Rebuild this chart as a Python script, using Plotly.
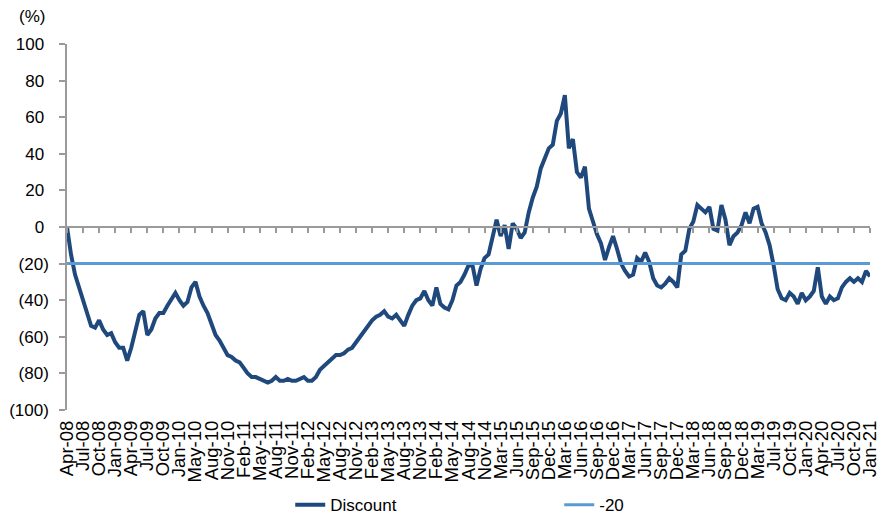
import plotly.graph_objects as go

# Category labels on the horizontal axis (one every ~quarter)
tick_labels = ["Apr-08", "Jul-08", "Oct-08", "Jan-09", "Apr-09", "Jul-09", "Oct-09", "Jan-10",
               "May-10", "Aug-10", "Nov-10", "Feb-11", "May-11", "Aug-11", "Nov-11", "Feb-12",
               "May-12", "Aug-12", "Nov-12", "Feb-13", "May-13", "Aug-13", "Nov-13", "Feb-14",
               "May-14", "Aug-14", "Nov-14", "Mar-15", "Jun-15", "Sep-15", "Dec-15", "Mar-16",
               "Jun-16", "Sep-16", "Dec-16", "Mar-17", "Jun-17", "Sep-17", "Dec-17", "Mar-18",
               "Jun-18", "Sep-18", "Dec-18", "Mar-19", "Jul-19", "Oct-19", "Jan-20", "Apr-20",
               "Jul-20", "Oct-20", "Jan-21"]

# Discount (%), 4 readings per label interval
discount = [0, -15, -26, -33, -41, -47, -54, -55, -51, -56,
            -59, -58, -63, -66, -66, -73, -66, -57, -48, -46,
            -59, -56, -50, -47, -47, -43, -39, -36, -40, -43,
            -41, -33, -30, -38, -43, -47, -53, -59, -62, -66,
            -70, -71, -73, -74, -77, -80, -82, -82, -83, -84,
            -85, -84, -82, -84, -84, -83, -84, -84, -83, -82,
            -84, -84, -82, -78, -76, -74, -72, -70, -70, -69,
            -67, -66, -63, -60, -57, -54, -51, -49, -48, -46,
            -49, -50, -48, -51, -54, -48, -43, -40, -39, -35,
            -40, -43, -33, -42, -44, -45, -40, -32, -30, -26,
            -21, -21, -32, -23, -17, -15, -6, 4, -5, 1,
            -12, 2, -1, -6, -3, 8, 16, 22, 32, 37,
            43, 45, 58, 62, 72, 43, 48, 30, 27, 33,
            10, 3, -4, -9, -18, -11, -5, -12, -20, -24,
            -27, -26, -17, -19, -14, -19, -28, -32, -33, -31,
            -28, -30, -33, -15, -13, -1, 3, 12, 10, 8,
            11, -1, -2, 12, 4, -10, -5, -3, 1, 8,
            2, 10, 11, 2, -3, -10, -21, -34, -39, -40,
            -36, -38, -42, -36, -40, -38, -35, -22, -38, -42,
            -38, -40, -39, -33, -30, -28, -30, -28, -30, -24,
            -27]

threshold = -20
readings_per_label = 4

y_ticks = [100, 80, 60, 40, 20, 0, -20, -40, -60, -80, -100]
# accounting style: negatives in brackets, positives padded so digits line up
y_tick_text = [(str(v) + "\u00a0") if v >= 0 else "(%d)" % abs(v) for v in y_ticks]

x = [i / readings_per_label for i in range(len(discount))]
label_pos = list(range(len(tick_labels)))

FONT = "Liberation Sans, Arial, sans-serif"
GREY = "#9a9a9a"

fig = go.Figure()
fig.add_trace(go.Scatter(x=x, y=discount, mode="lines", name="Discount",
                         line=dict(color="#1F497D", width=4)))
fig.add_trace(go.Scatter(x=[x[0], x[-1]], y=[threshold, threshold], mode="lines", name="-20",
                         line=dict(color="#5B9BD5", width=3)))
# carrier for the zero-line axis with tick marks
fig.add_trace(go.Scatter(x=[x[0]], y=[None], xaxis="x2", showlegend=False, hoverinfo="skip"))

fig.update_layout(
    width=884, height=515,
    margin=dict(l=67, r=14, t=44, b=105, autoexpand=False),
    plot_bgcolor="white", paper_bgcolor="white",
    font=dict(family=FONT, size=17, color="black"),
    showlegend=True,
    legend=dict(orientation="h", x=0.278, y=-0.26, xanchor="left", yanchor="middle",
                entrywidth=224, entrywidthmode="pixels",
                font=dict(family=FONT, size=17)),
    xaxis=dict(range=[0, len(tick_labels) - 1], tickmode="array", tickvals=label_pos,
               ticktext=tick_labels, tickangle=-90, showgrid=False, zeroline=False,
               showline=False, ticks="", ticklabelstandoff=6, automargin=False,
               tickfont=dict(family=FONT, size=18.5)),
    xaxis2=dict(range=[0, len(tick_labels) - 1], overlaying="x", anchor="free", position=0.5,
                side="bottom", tickmode="array", tickvals=label_pos, showticklabels=False,
                ticks="outside", ticklen=5, tickwidth=1.5, tickcolor=GREY, automargin=False,
                showline=True, linecolor=GREY, linewidth=1.5, showgrid=False, zeroline=False),
    yaxis=dict(range=[-100, 100], tickmode="array", tickvals=y_ticks, ticktext=y_tick_text,
               showgrid=False, zeroline=False, showline=True, linecolor=GREY, linewidth=1.5,
               ticks="outside", ticklen=6, tickwidth=1.5, tickcolor=GREY, automargin=False,
               ticklabelstandoff=7, tickfont=dict(family=FONT, size=17)),
    annotations=[dict(text="(%)", xref="paper", yref="paper", x=-0.044, y=1.075,
                      xanchor="center", yanchor="middle", showarrow=False,
                      font=dict(family=FONT, size=17))],
)

fig.write_html("out.html")
